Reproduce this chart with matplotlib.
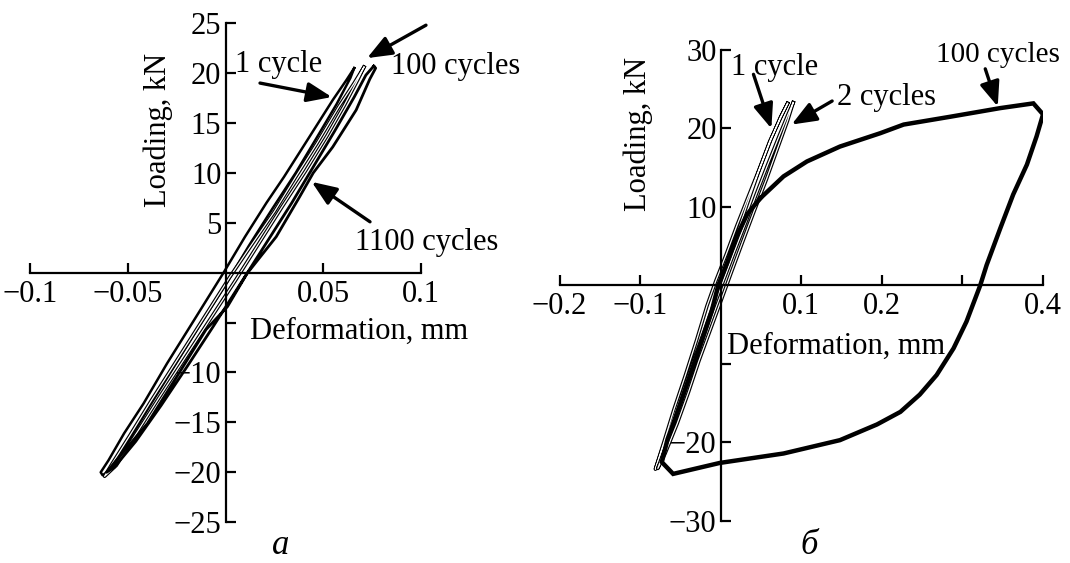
import matplotlib.pyplot as plt

plt.rcParams['font.family'] = ['Liberation Serif', 'DejaVu Serif']
plt.rcParams['font.size'] = 22

# ---- panel a: narrow loops, deformation (mm) vs loading (kN)
# each loop = unloading branch (top tip -> bottom tip) + loading branch (back up)
a1_x = [0.066, 0.062, 0.055, 0.043, 0.030, 0.021, 0.010, -0.001, -0.015, -0.030, -0.042, -0.052, -0.060, -0.064, -0.063,
        -0.058, -0.050, -0.039, -0.027, -0.013, 0.001, 0.012, 0.024, 0.036, 0.047, 0.057, 0.064, 0.066]
a1_y = [20.5, 19.3, 17.3, 13.6, 9.6, 7.0, 3.6, 0.0, -4.4, -9.1, -13.1, -16.1, -18.8, -20.0, -20.3,
        -19.6, -17.0, -13.4, -9.6, -5.2, -0.9, 2.7, 6.4, 10.0, 13.6, 16.9, 19.5, 20.5]

a2_x = [0.071, 0.066, 0.058, 0.047, 0.036, 0.025, 0.012, 0.002, -0.011, -0.025, -0.038, -0.049, -0.058, -0.062,
        -0.056, -0.046, -0.034, -0.021, -0.008, 0.005, 0.017, 0.029, 0.041, 0.052, 0.061, 0.068, 0.071]
a2_y = [20.6, 19.0, 16.6, 13.0, 9.6, 6.1, 2.4, -0.5, -4.5, -8.8, -12.8, -16.3, -19.1, -20.4,
        -19.3, -16.2, -12.5, -8.6, -4.7, -0.8, 2.9, 6.6, 10.2, 13.7, 16.8, 19.4, 20.6]

a3_x = [0.076, 0.072, 0.066, 0.056, 0.045, 0.034, 0.021, 0.008, -0.006, -0.020, -0.033, -0.046, -0.057, -0.061,
        -0.056, -0.040, -0.023, -0.010, 0.001, 0.011, 0.026, 0.038, 0.045, 0.055, 0.067, 0.074, 0.077, 0.076]
a3_y = [20.7, 19.8, 17.6, 14.2, 10.6, 7.0, 3.0, -1.0, -5.3, -9.5, -13.3, -16.9, -19.5, -20.0,
        -18.8, -15.1, -9.8, -5.7, -3.4, -0.1, 3.6, 7.6, 10.0, 12.6, 16.3, 19.4, 20.5, 20.7]

a_xticks = [-0.1, -0.05, 0.05, 0.1]
a_xlabels = ['\u22120.1', '\u22120.05', '0.05', '0.1']
a_yticks = [-25, -20, -15, -10, -5, 5, 10, 15, 20, 25]
a_ylabels = ['\u221225', '\u221220', '\u221215', '\u221210', '', '5', '10', '15', '20', '25']

# ---- panel б: 1 and 2 cycles (narrow) and 100 cycles (wide loop)
b1_x = [0.083, 0.075, 0.061, 0.047, 0.033, 0.020, 0.007, -0.006, -0.017, -0.030, -0.044, -0.058, -0.070, -0.081,
        -0.074, -0.062, -0.048, -0.034, -0.020, -0.006, 0.006, 0.019, 0.033, 0.047, 0.062, 0.074, 0.083]
b1_y = [23.2, 21.5, 18.4, 14.6, 11.0, 7.6, 4.0, 0.6, -2.6, -7.0, -11.5, -15.8, -19.8, -23.4,
        -21.3, -17.8, -13.8, -9.7, -5.7, -1.6, 2.2, 6.2, 10.4, 14.5, 18.5, 21.4, 23.2]

b2_x = [0.090, 0.084, 0.072, 0.058, 0.044, 0.031, 0.017, 0.003, -0.010, -0.024, -0.039, -0.054, -0.067, -0.078,
        -0.069, -0.054, -0.040, -0.027, -0.012, 0.003, 0.014, 0.027, 0.042, 0.057, 0.071, 0.083, 0.090]
b2_y = [23.3, 21.9, 18.9, 15.3, 11.6, 8.0, 4.3, 0.5, -3.1, -7.3, -11.8, -16.2, -20.2, -23.3,
        -21.4, -17.6, -13.6, -9.6, -5.4, -1.2, 1.9, 5.5, 9.6, 13.6, 17.6, 21.0, 23.3]

b3_x = [0.049, 0.078, 0.107, 0.148, 0.198, 0.227, 0.285, 0.347, 0.388, 0.400, 0.392, 0.380, 0.363, 0.347,
        0.330, 0.322, 0.305, 0.289, 0.268, 0.247, 0.223, 0.194, 0.148, 0.078, -0.001, -0.059, -0.073,
        -0.066, -0.052, -0.038, -0.024, -0.011, -0.003, 0.008, 0.020, 0.033, 0.049]
b3_y = [11.1, 13.9, 15.8, 17.7, 19.4, 20.5, 21.5, 22.6, 23.2, 21.8, 19.0, 15.4, 11.6, 7.3,
        2.6, 0.0, -4.6, -8.0, -11.4, -13.9, -16.1, -17.7, -19.7, -21.4, -22.6, -24.0, -22.5,
        -19.6, -15.6, -11.4, -7.2, -3.2, 0.0, 2.9, 6.3, 9.1, 11.1]

b_xticks = [-0.2, -0.1, 0.1, 0.2, 0.3, 0.4]
b_xlabels = ['\u22120.2', '\u22120.1', '0.1', '0.2', '', '0.4']
b_yticks = [-30, -20, -10, 10, 20, 30]
b_ylabels = ['\u221230', '\u221220', '', '10', '20', '30']


def setup(ax, xlim, ylim, xt, xl, yt, yl):
    ax.set_xlim(xlim)
    ax.set_ylim(ylim)
    ax.patch.set_visible(False)
    for s in ['top', 'right']:
        ax.spines[s].set_visible(False)
    for s in ['left', 'bottom']:
        ax.spines[s].set_position(('data', 0))
        ax.spines[s].set_linewidth(1.6)
    ax.set_xticks(xt, xl)
    ax.set_yticks(yt, yl)
    ax.tick_params(direction='in', length=7, width=1.6)
    ax.tick_params(axis='x', pad=5)
    ax.tick_params(axis='y', pad=3)


def outlined(ax, x, y):
    ax.plot(x, y, color='black', lw=2.6, solid_joinstyle='round')
    ax.plot(x, y, color='white', lw=0.9, solid_joinstyle='round')


def arrow(ax, head, tail):
    ax.annotate('', xy=head, xytext=tail, annotation_clip=False,
                arrowprops=dict(arrowstyle='-|>,head_length=0.75,head_width=0.3',
                                mutation_scale=20, lw=2.4, color='black',
                                shrinkA=0, shrinkB=0))


fig = plt.figure(figsize=(10.7, 5.63), dpi=100)
ax1 = fig.add_axes([0.0285, 0.0725, 0.3645, 0.8863])
ax2 = fig.add_axes([0.5229, 0.0746, 0.4519, 0.8366])

setup(ax1, (-0.1, 0.1), (-25, 25), a_xticks, a_xlabels, a_yticks, a_ylabels)
ax1.plot(a1_x, a1_y, color='black', lw=1.8)
outlined(ax1, a2_x, a2_y)
ax1.plot(a3_x, a3_y, color='black', lw=2.0)

ax1.text(-0.0343, 14.3, 'Loading, kN', rotation=90, ha='center', va='center')
ax1.text(0.0683, -5.9, 'Deformation, mm', ha='center', va='center')
ax1.text(0.0049, 20.9, '1 cycle', ha='left', va='center')
ax1.text(0.085, 20.7, '100 cycles', ha='left', va='center')
ax1.text(0.0664, 3.0, '1100 cycles', ha='left', va='center')
arrow(ax1, (0.0545, 17.6), (0.0177, 19.0))
arrow(ax1, (0.0726, 21.5), (0.1028, 24.8))
arrow(ax1, (0.0442, 9.1), (0.0741, 5.1))

setup(ax2, (-0.2, 0.4), (-30, 30), b_xticks, b_xlabels, b_yticks, b_ylabels)
outlined(ax2, b1_x, b1_y)
outlined(ax2, b2_x, b2_y)
ax2.plot(b3_x, b3_y, color='black', lw=3.2, solid_joinstyle='miter')

ax2.text(-0.1026, 19.3, 'Loading, kN', rotation=90, ha='center', va='center')
ax2.text(0.1428, -7.8, 'Deformation, mm', ha='center', va='center')
ax2.text(0.0128, 27.8, '1 cycle', ha='left', va='center')
ax2.text(0.1447, 23.9, '2 cycles', ha='left', va='center')
ax2.text(0.267, 29.3, '100 cycles', ha='left', va='center', fontsize=21)
arrow(ax2, (0.0629, 20.0), (0.0407, 26.9))
arrow(ax2, (0.088, 20.5), (0.1383, 23.5))
arrow(ax2, (0.3438, 22.8), (0.3283, 27.6))

fig.text(281 / 1070, 1 - 545 / 563, '\u0430', style='italic', fontsize=25, ha='center', va='center')
fig.text(809 / 1070, 1 - 545 / 563, '\u0431', style='italic', fontsize=25, ha='center', va='center')

fig.savefig('out.png', dpi=100)
